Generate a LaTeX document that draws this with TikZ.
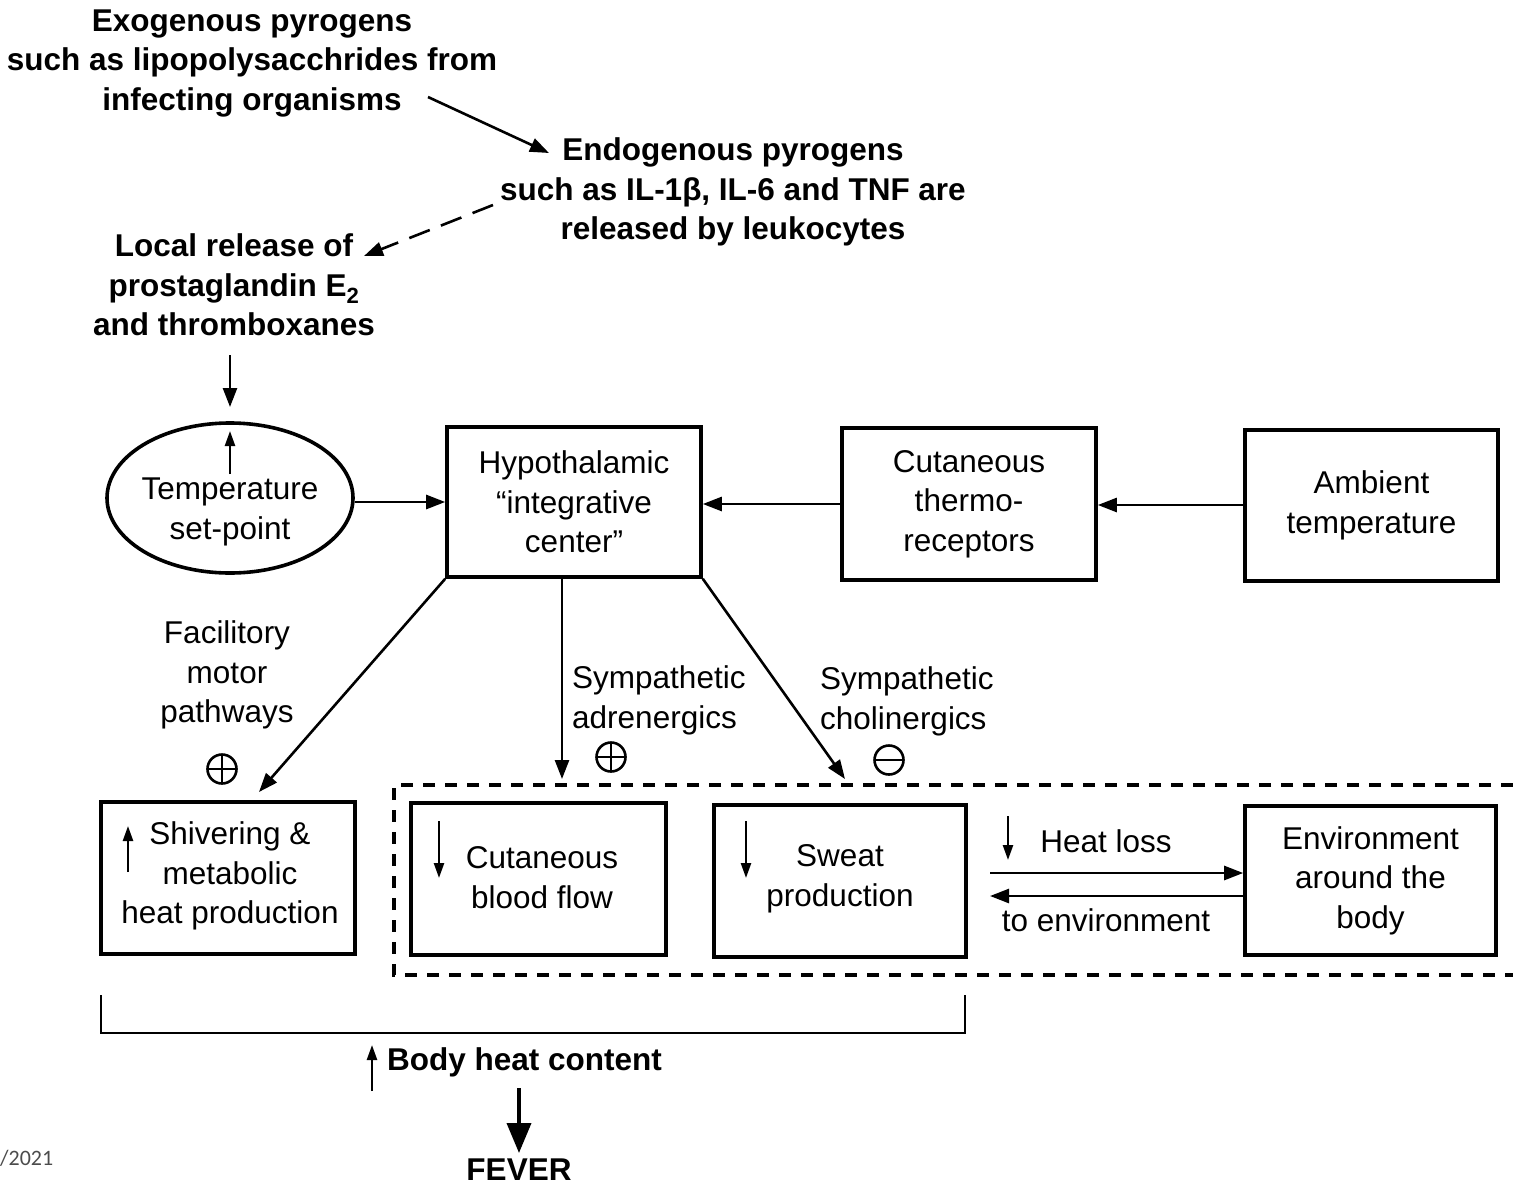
\documentclass[tikz,border=0pt]{standalone}
\usepackage{fontspec}
\setmainfont{Liberation Sans}
\newfontfamily\footfont{Carlito}
\usetikzlibrary{arrows.meta,shapes.geometric}
\begin{document}
\begin{tikzpicture}[x=1pt,y=-1pt,
  every node/.style={font=\fontsize{31.5}{39.5}\selectfont, align=center, inner sep=0pt},
  bt/.style={font=\fontsize{31.5}{39.5}\selectfont\bfseries},
  box/.style={draw, line width=3.6pt, rectangle, inner sep=0pt},
  conn/.style={line width=2.6pt, -{Triangle[length=19pt,width=14pt]}},
  small/.style={line width=2.4pt, -{Triangle[length=15pt,width=10pt]}},
  cplus/.pic={\draw[line width=2.6pt] (0,0) circle (14.5);
              \draw[line width=2.6pt] (-14.5,0) -- (14.5,0) (0,-14.5) -- (0,14.5);},
  cminus/.pic={\draw[line width=2.6pt] (0,0) circle (14.5);
              \draw[line width=2.6pt] (-14.5,0) -- (14.5,0);},
]
\useasboundingbox (0,0) rectangle (1513,1189);

% top texts
\node[bt] (exo) at (252,63) {Exogenous pyrogens\\such as lipopolysacchrides from\\infecting organisms};
\node[bt] (endo) at (733,192) {Endogenous pyrogens\\such as IL-1β, IL-6 and TNF are\\released by leukocytes};
\node[bt] (local) at (234,285) {Local release of\\prostaglandin E\textsubscript{2}\\and thromboxanes};

\coordinate (a1s) at (428,97);
\coordinate (a1e) at (549,153);
\draw[conn] (a1s) -- (a1e);
\coordinate (a2s) at (493,205);
\coordinate (a2e) at (364,256);
\draw[conn, dash pattern=on 22pt off 12pt] (a2s) -- (a2e);
\coordinate (a3s) at (230,355);
\coordinate (a3e) at (230,407);
\draw[conn] (a3s) -- (a3e);

% middle row
\node[draw, ellipse, line width=3.6pt, minimum width=246pt, minimum height=150pt] (tsp) at (230,498) {};
\node (tsptext) at (230,512) {Temperature\\set-point};
\coordinate (tspup1) at (230,474);
\coordinate (tspup2) at (230,431);
\draw[small] (tspup1) -- (tspup2);

\node[box, minimum width=254pt, minimum height=150pt] (hyp) at (574,502) {Hypothalamic\\``integrative\\center''};
\node[box, minimum width=254pt, minimum height=152pt] (cut) at (969,504) {Cutaneous\\thermo-\\receptors};
\node[box, minimum width=253pt, minimum height=151pt] (amb) at (1371.5,505.5) {Ambient\\temperature};

\draw[conn] (tsp.east |- 0,502) -- (hyp.west |- 0,502);
\draw[conn] (cut.west |- 0,504) -- (hyp.east |- 0,504);
\draw[conn] (amb.west |- 0,505) -- (cut.east |- 0,505);

% bottom row
\node[box, minimum width=254pt, minimum height=152pt] (shiv) at (228,878) {};
\node (shivtext) at (230,876) {Shivering \&\\metabolic\\heat production};
\coordinate (sh1) at (128,872);
\coordinate (sh2) at (128,826);
\draw[small] (sh1) -- (sh2);

\node[box, minimum width=255pt, minimum height=152pt] (cbf) at (538.5,879) {};
\node (cbftext) at (542,877.5) {Cutaneous\\blood flow};
\coordinate (cb1) at (439,821);
\coordinate (cb2) at (439,878);
\draw[small] (cb1) -- (cb2);

\node[box, minimum width=252pt, minimum height=152pt] (swt) at (840,881) {};
\node (swttext) at (840,879) {Sweat\\production};
\coordinate (sw1) at (746,821);
\coordinate (sw2) at (746,878);
\draw[small] (sw1) -- (sw2);

\node[box, minimum width=251pt, minimum height=149pt] (env) at (1370.5,880.5) {Environment\\around the\\body};

\node (hl) at (1106,841) {Heat loss};
\node (toenv) at (1106,920) {to environment};
\coordinate (hl1) at (1008,816);
\coordinate (hl2) at (1008,860);
\draw[small] (hl1) -- (hl2);
\coordinate (hr1) at (990,873);
\coordinate (hr2) at (990,896);
\draw[conn] (hr1) -- (env.west |- hr1);
\draw[conn] (env.west |- hr2) -- (hr2);

% dashed enclosure
\draw[line width=4.5pt, dash pattern=on 12pt off 10pt] (1513,785) -- (394,785) -- (394,975) -- (1513,975);

% connectors from hypothalamic center
\coordinate (t1) at (259,792);
\coordinate (t2) at (562,779);
\coordinate (t3) at (845,779);
\draw[conn] (hyp.south west) -- (t1);
\draw[conn] (hyp.south west -| t2) -- (t2);
\draw[conn] (hyp.south east) -- (t3);

\node (fac) at (227,675) {Facilitory\\motor\\pathways};
\node[anchor=west] (sadr) at (572,700.5) {\begin{tabular}{@{}l@{}}Sympathetic\\adrenergics\end{tabular}};
\node[anchor=west] (schol) at (820,701.5) {\begin{tabular}{@{}l@{}}Sympathetic\\cholinergics\end{tabular}};
\pic at (222,769) {cplus};
\pic at (611,757) {cplus};
\pic at (889,760) {cminus};

% bracket
\draw[line width=2.8pt] (101,995) -- (101,1033) -- (965,1033) -- (965,995);

\node[bt, anchor=west] (bhc) at (387,1062) {Body heat content};
\coordinate (bh1) at (372,1091);
\coordinate (bh2) at (372,1045);
\draw[small] (bh1) -- (bh2);
\node[bt] (fever) at (519,1170) {FEVER};
\coordinate (fv1) at (519,1088);
\coordinate (fv2) at (519,1153);
\draw[line width=3.8pt, -{Triangle[length=30pt,width=24pt]}] (fv1) -- (fv2);

\node[font=\footfont\fontsize{22}{26}\selectfont, text=black!70, anchor=west] (yr) at (0,1158) {/2021};
\end{tikzpicture}
\end{document}
